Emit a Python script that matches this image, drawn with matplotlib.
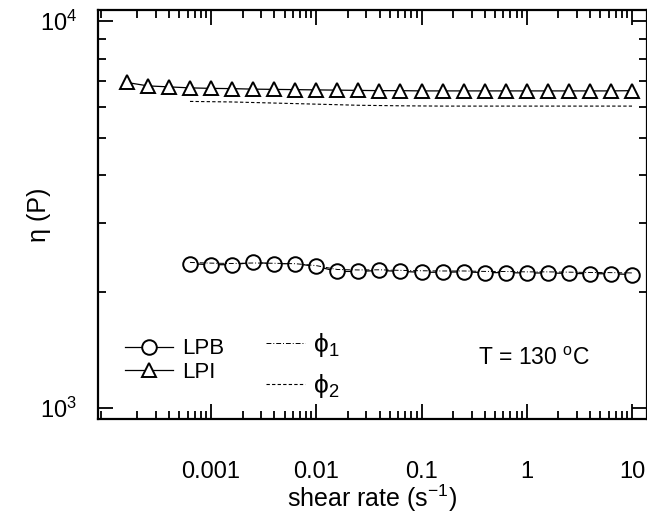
import numpy as np
import matplotlib
matplotlib.use('Agg')
import matplotlib.pyplot as plt
from matplotlib.ticker import FixedLocator, LogLocator, NullFormatter, FuncFormatter

plt.rcParams['font.family'] = ['Liberation Sans', 'DejaVu Sans']
plt.rcParams['mathtext.fontset'] = 'custom'
plt.rcParams['mathtext.rm'] = 'Liberation Sans'
plt.rcParams['mathtext.it'] = 'Liberation Sans:italic'

# shear rates (s^-1), 5 points per decade
rate_lpi = 10 ** np.arange(-3.8, 1.01, 0.2)
rate_lpb = 10 ** np.arange(-3.2, 1.01, 0.2)

# viscosity (P)
eta_lpi = [6940, 6800, 6760, 6720, 6700, 6690, 6670, 6660, 6650, 6640,
           6630, 6620, 6610, 6610, 6600, 6600, 6600, 6600, 6600, 6600,
           6600, 6600, 6600, 6600, 6610]
eta_lpb = [2362, 2348, 2348, 2381, 2362, 2362, 2325, 2256, 2256, 2269,
           2256, 2245, 2245, 2250, 2240, 2240, 2235, 2235, 2230, 2225,
           2225, 2215]
phi1 = [2380, 2370, 2365, 2372, 2368, 2362, 2335, 2282, 2276, 2278,
        2270, 2265, 2262, 2262, 2256, 2255, 2250, 2250, 2246, 2242,
        2240, 2236]
phi2 = [6200, 6190, 6180, 6160, 6140, 6120, 6100, 6080, 6060, 6050,
        6040, 6035, 6030, 6030, 6030, 6030, 6030, 6030, 6030, 6030,
        6030, 6030]

fig = plt.figure(figsize=(6.47, 5.14), dpi=100)
ax = fig.add_axes([98 / 647, 1 - 419 / 514, 549 / 647, 409 / 514])

l1, = ax.plot(rate_lpb, eta_lpb, '-', color='black', lw=0.9, marker='o',
              ms=10.5, mfc='white', mec='black', mew=1.4, label='LPB', zorder=3)
l2, = ax.plot(rate_lpi, eta_lpi, '-', color='black', lw=0.9, marker='^',
              ms=10.5, mfc='white', mec='black', mew=1.4, label='LPI', zorder=3)
l3, = ax.plot(rate_lpb, phi1, color='black', lw=0.7, linestyle=(0, (5, 2, 1, 2)),
              label='ϕ$_1$', zorder=4)
l4, = ax.plot(rate_lpb, phi2, color='black', lw=0.8, linestyle=(0, (3, 2)),
              label='ϕ$_2$', zorder=2)

ax.set_xscale('log')
ax.set_yscale('log')
ax.set_xlim(10 ** -4.074, 10 ** 1.1425)
ax.set_ylim(938, 10678)

ax.xaxis.set_major_locator(FixedLocator([1e-3, 1e-2, 1e-1, 1, 10]))
ax.xaxis.set_major_formatter(FuncFormatter(lambda v, p: '%g' % v))
ax.xaxis.set_minor_locator(LogLocator(base=10, subs=np.arange(2, 10), numticks=20))
ax.xaxis.set_minor_formatter(NullFormatter())
ax.yaxis.set_major_locator(FixedLocator([1e3, 1e4]))
ax.yaxis.set_minor_locator(LogLocator(base=10, subs=np.arange(2, 10), numticks=20))
ax.yaxis.set_minor_formatter(NullFormatter())

ax.tick_params(which='both', direction='in', top=True, right=True,
               labelsize=17, width=1.3)
ax.tick_params(which='major', length=11)
ax.tick_params(which='minor', length=6)
ax.tick_params(axis='x', pad=30)
ax.tick_params(axis='y', pad=15)
for s in ax.spines.values():
    s.set_linewidth(1.6)

ax.set_xlabel('shear rate (s$^{-1}$)', fontsize=18, labelpad=0)
ax.set_ylabel('η (P)', fontsize=18)
ax.yaxis.set_label_coords(-0.085, 0.5)

leg1 = ax.legend(handles=[l1, l2], loc='upper left', bbox_to_anchor=(0.02, 0.235),
                 frameon=False, fontsize=16, handlelength=2.2, handletextpad=0.4,
                 labelspacing=0.1, borderaxespad=0.3)
ax.add_artist(leg1)
ax.legend(handles=[l3, l4], loc='upper left', bbox_to_anchor=(0.272, 0.26),
          frameon=False, fontsize=19, handlelength=1.5, handletextpad=0.3,
          labelspacing=0.5, borderaxespad=0.3)

ax.text(0.693, 0.133, 'T = 130 $^{\\mathrm{o}}$C', transform=ax.transAxes,
        fontsize=16.5)

fig.savefig('out.png', dpi=100)
